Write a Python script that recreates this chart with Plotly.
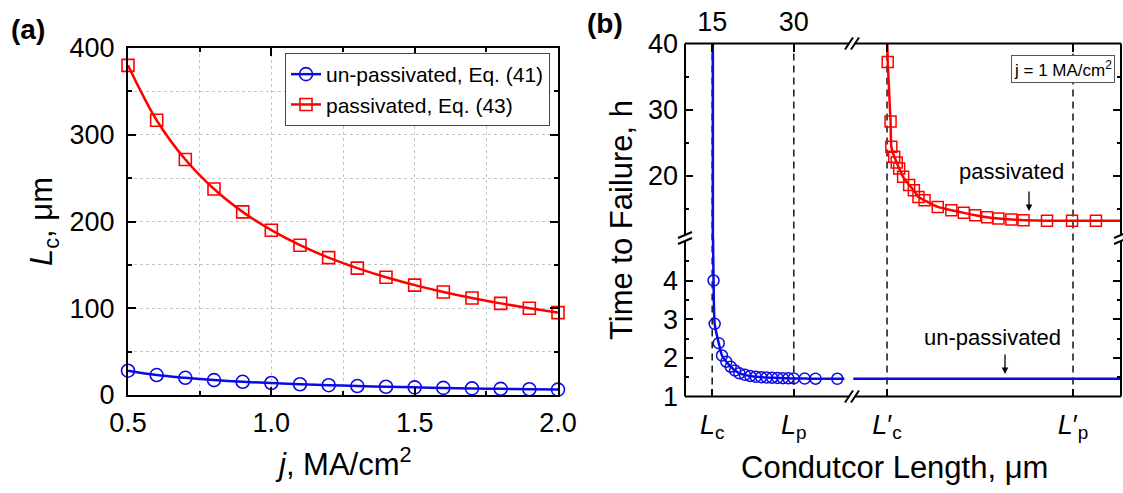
import plotly.graph_objects as go

W, H = 1123, 493
FONT = "Liberation Sans, Arial, sans-serif"

# ---------------- data : panel (a) ----------------
j_density = [0.5, 0.6, 0.7, 0.8, 0.9, 1.0, 1.1, 1.2, 1.3, 1.4, 1.5, 1.6, 1.7, 1.8, 1.9, 2.0]
lc_unpassivated = [28, 23, 19.8, 17.2, 15.2, 13.8, 12.4, 11.3, 10.3, 9.5, 8.8, 8.2, 7.6, 7.1, 6.6, 6.2]
lc_passivated = [380, 316.7, 271.4, 237.5, 211.1, 190, 172.7, 158.3, 146.2, 135.7,
                 126.7, 118.8, 111.8, 105.6, 100, 95]
j_range = [0.5, 2.0]
lc_range = [0, 400]

# ---------------- data : panel (b) ----------------
# un-passivated line (left length scale)
len_unpass_pts = [15.25, 15.45, 16.2, 16.8, 17.6, 18.4, 19.2, 20, 21, 22, 23, 24, 25, 26,
                  27, 28, 29, 30, 32, 34, 38]
ttf_unpass_pts = [4.0, 2.88, 2.38, 2.06, 1.9, 1.77, 1.67, 1.6, 1.56, 1.53, 1.51, 1.5, 1.49,
                  1.485, 1.48, 1.475, 1.47, 1.467, 1.463, 1.46, 1.458]
len_unpass_curve = [15.15] + len_unpass_pts + [39.3]
ttf_unpass_curve = [5.1] + ttf_unpass_pts + [1.457]
len_unpass_asym = [15.12, 15.12]
ttf_unpass_asym = [10.6, 40]
len_unpass_long = [155.5, 429]
ttf_unpass_long = [1.457, 1.457]

# passivated line (right length scale)
len_pass_pts = [190.7, 193.6, 194.4, 197.3, 199.9, 202.4, 206.4, 212.6, 217.4, 222.1, 228.3,
                241.8, 255.7, 268.4, 280.1, 292.2, 303.8, 317, 329.4, 353.4, 379, 403.4]
ttf_pass_pts = [37.2, 28.2, 24.4, 22.9, 22.0, 21.1, 19.85, 18.6, 17.8, 16.8, 16.3, 15.3, 14.8,
                14.4, 14.05, 13.75, 13.55, 13.4, 13.3, 13.2, 13.2, 13.2]
len_pass_curve = [190.35] + len_pass_pts + [429]
ttf_pass_curve = [40] + ttf_pass_pts + [13.2]

crit_len = [15, 30]            # Lc, Lp
crit_len_pass = [190, 380]     # L'c, L'p
crit_labels = ["<i>L</i><sub>c</sub>", "<i>L</i><sub>p</sub>"]
crit_labels_pass = ["<i>L</i>\u2032<sub>c</sub>", "<i>L</i>\u2032<sub>p</sub>"]
top_tick_text = ["15", "30"]
ttf_ticks_low = [1, 2, 3, 4]
ttf_minor_low = [1.5, 2.5, 3.5, 4.5]
ttf_ticks_high = [20, 30, 40]
ttf_minor_high = [15, 25, 35]
len_range_left = [10, 40.7]
len_range_right = [154.2, 429]
ttf_range_low = [1, 5.1]
ttf_range_high = [10.6, 40]

BLUE = "#0a0ae6"
RED = "#ff0000"

# ---------------- geometry (pixels) ----------------
A_L, A_R, A_T, A_B = 128, 558, 48, 395
B_L, B_R, B_T, B_B = 685, 1121, 43.5, 396.5
B_XBRK, B_YBRK = 852, 238


def px(x):
    return x / W


def py(y):
    return 1 - y / H


fig = go.Figure()

# ---- panel (a) traces ----
fig.add_trace(go.Scatter(x=j_density, y=lc_unpassivated, mode="lines+markers",
                         name="un-passivated, Eq. (41)", xaxis="x", yaxis="y",
                         line=dict(color=BLUE, width=2.5, shape="spline"),
                         marker=dict(symbol="circle-open", size=13, color=BLUE,
                                     line=dict(width=1.6, color=BLUE)),
                         cliponaxis=False))
fig.add_trace(go.Scatter(x=j_density, y=lc_passivated, mode="lines+markers",
                         name="passivated, Eq. (43)", xaxis="x", yaxis="y",
                         line=dict(color=RED, width=2.5, shape="spline"),
                         marker=dict(symbol="square-open", size=12, color=RED,
                                     line=dict(width=1.6, color=RED)),
                         cliponaxis=False))

# ---- panel (b) traces ----
fig.add_trace(go.Scatter(x=len_unpass_asym, y=ttf_unpass_asym, mode="lines", xaxis="x3", yaxis="y4",
                         line=dict(color=BLUE, width=2.5), showlegend=False))
fig.add_trace(go.Scatter(x=len_unpass_curve, y=ttf_unpass_curve, mode="lines", xaxis="x3", yaxis="y3",
                         line=dict(color=BLUE, width=2.5, shape="spline", smoothing=0.6),
                         showlegend=False))
fig.add_trace(go.Scatter(x=len_unpass_pts, y=ttf_unpass_pts, mode="markers", xaxis="x3", yaxis="y3",
                         marker=dict(symbol="circle-open", size=11, color=BLUE,
                                     line=dict(width=1.5, color=BLUE)),
                         showlegend=False, cliponaxis=False))
fig.add_trace(go.Scatter(x=len_unpass_long, y=ttf_unpass_long, mode="lines", xaxis="x4", yaxis="y3",
                         line=dict(color=BLUE, width=2.5), showlegend=False))
fig.add_trace(go.Scatter(x=len_pass_curve, y=ttf_pass_curve, mode="lines", xaxis="x4", yaxis="y4",
                         line=dict(color=RED, width=2.5, shape="spline", smoothing=0.6),
                         showlegend=False))
fig.add_trace(go.Scatter(x=len_pass_pts, y=ttf_pass_pts, mode="markers", xaxis="x4", yaxis="y4",
                         marker=dict(symbol="square-open", size=11, color=RED,
                                     line=dict(width=1.5, color=RED)),
                         showlegend=False, cliponaxis=False))
# empty traces so that mirror axes are drawn
for xa, ya in [("x5", "y4"), ("x6", "y4"), ("x4", "y5"), ("x4", "y6")]:
    fig.add_trace(go.Scatter(x=[], y=[], xaxis=xa, yaxis=ya, showlegend=False, hoverinfo="skip"))

tickfont = dict(family=FONT, size=27, color="black")
GRID = dict(showgrid=True, gridcolor="#c4c4c4", griddash="dot", gridwidth=1)

common_a = dict(showline=True, linewidth=2, linecolor="black", mirror="allticks",
                ticks="inside", ticklen=8, tickwidth=2, tickcolor="black",
                zeroline=False, tickfont=tickfont, automargin=False,
                **GRID)

common_b = dict(showline=False, ticks="inside", ticklen=8, tickwidth=2, tickcolor="black",
                showgrid=False, zeroline=False, tickfont=tickfont, automargin=False)

minor_a = dict(ticks="inside", ticklen=4, tickwidth=2, tickcolor="black",
               showgrid=True, gridcolor="#c4c4c4", griddash="dot", gridwidth=1)

layout = dict(
    width=W, height=H, margin=dict(l=0, r=0, t=0, b=0),
    paper_bgcolor="white", plot_bgcolor="rgba(0,0,0,0)",
    font=dict(family=FONT, color="black"),
    showlegend=True,
    legend=dict(x=px(550), y=py(53), xanchor="right", yanchor="top",
                bordercolor="#444", borderwidth=1, bgcolor="white",
                font=dict(family=FONT, size=21, color="black"),
                tracegroupgap=0),
    xaxis=dict(domain=[px(A_L), px(A_R)], range=j_range, anchor="y",
               tick0=0.5, dtick=0.5, tickformat=".1f", ticklabelstandoff=3,
               minor=dict(dtick=0.25, tick0=0.5, **minor_a), **common_a),
    yaxis=dict(domain=[py(A_B), py(A_T)], range=lc_range, anchor="x",
               tick0=0, dtick=100, ticklabelstandoff=6,
               minor=dict(dtick=50, tick0=0, **minor_a), **common_a),
    xaxis3=dict(domain=[px(B_L), px(B_XBRK)], range=len_range_left, anchor="y3",
                tickmode="array", tickvals=crit_len, ticktext=crit_labels,
                ticklabelstandoff=9, **common_b),
    xaxis4=dict(domain=[px(B_XBRK), px(B_R)], range=len_range_right, anchor="y3",
                tickmode="array", tickvals=crit_len_pass, ticktext=crit_labels_pass,
                ticklabelstandoff=9, **common_b),
    xaxis5=dict(overlaying="x3", range=len_range_left, anchor="y4", side="top",
                tickmode="array", tickvals=crit_len, ticktext=top_tick_text,
                ticklabelstandoff=6, **common_b),
    xaxis6=dict(overlaying="x4", range=len_range_right, anchor="y4", side="top",
                tickmode="array", tickvals=crit_len_pass, showticklabels=False, **common_b),
    yaxis3=dict(domain=[py(B_B), py(B_YBRK)], range=ttf_range_low, anchor="x3",
                tickmode="array", tickvals=ttf_ticks_low, ticklabelstandoff=6,
                minor=dict(tickvals=ttf_minor_low, ticks="inside", ticklen=4, tickwidth=2,
                           tickcolor="black"), **common_b),
    yaxis4=dict(domain=[py(B_YBRK), py(B_T)], range=ttf_range_high, anchor="x3",
                tickmode="array", tickvals=ttf_ticks_high, ticklabelstandoff=6,
                minor=dict(tickvals=ttf_minor_high, ticks="inside", ticklen=4, tickwidth=2,
                           tickcolor="black"), **common_b),
    yaxis5=dict(overlaying="y3", range=ttf_range_low, anchor="x4", side="right",
                tickmode="array", tickvals=ttf_ticks_low, showticklabels=False,
                minor=dict(tickvals=ttf_minor_low, ticks="inside", ticklen=4, tickwidth=2,
                           tickcolor="black"), **common_b),
    yaxis6=dict(overlaying="y4", range=ttf_range_high, anchor="x4", side="right",
                tickmode="array", tickvals=ttf_ticks_high, showticklabels=False,
                minor=dict(tickvals=ttf_minor_high, ticks="inside", ticklen=4, tickwidth=2,
                           tickcolor="black"), **common_b),
)

shapes = []
# dashed reference lengths
for xa, vals in [("x3", crit_len), ("x4", crit_len_pass)]:
    for v in vals:
        shapes.append(dict(type="line", xref=xa, yref="paper", x0=v, x1=v,
                           y0=py(B_B), y1=py(B_T),
                           line=dict(color="#222", width=1.6, dash="7px,5px"), layer="below"))


def seg(x0, y0, x1, y1, w=2):
    shapes.append(dict(type="line", xref="paper", yref="paper",
                       x0=px(x0), y0=py(y0), x1=px(x1), y1=py(y1),
                       line=dict(color="black", width=w)))


# frame of panel (b) with breaks
g = 3
seg(B_L, B_T, B_XBRK - g, B_T)
seg(B_XBRK + g, B_T, B_R, B_T)
seg(B_L, B_B, B_XBRK - g, B_B)
seg(B_XBRK + g, B_B, B_R, B_B)
seg(B_L, B_T, B_L, B_YBRK - g)
seg(B_L, B_YBRK + g, B_L, B_B)
seg(B_R, B_T, B_R, B_YBRK - g)
seg(B_R, B_YBRK + g, B_R, B_B)
for yy in (B_T, B_B):
    for dx in (-g, g):
        seg(B_XBRK + dx - 4, yy + 6, B_XBRK + dx + 4, yy - 6)
for xx in (B_L, B_R):
    for dy in (-g, g):
        seg(xx - 7, B_YBRK + dy + 3, xx + 7, B_YBRK + dy - 3)

layout["shapes"] = shapes


def ann(text, x, y, size, xanchor="center", yanchor="middle", **kw):
    d = dict(text=text, x=px(x), y=py(y), xref="paper", yref="paper", showarrow=False,
             xanchor=xanchor, yanchor=yanchor,
             font=dict(family=FONT, size=size, color="black"))
    d.update(kw)
    return d


annotations = [
    ann("<b>(a)</b>", 9, 30, 28, xanchor="left"),
    ann("<b>(b)</b>", 585, 23, 28, xanchor="left"),
    ann("<i>L</i><sub>c</sub>, \u03bcm", 44, 222, 31, textangle=-90),
    ann("<i>j</i>, MA/cm<sup>2</sup>", 343, 462, 31),
    ann("Time to Failure, h", 622, 220, 31, textangle=-90),
    ann("Condutcor Length, \u03bcm", 894, 467, 31),
    ann("j = 1 MA/cm<sup>2</sup>", 1115, 55, 17, xanchor="right", yanchor="top",
        bordercolor="#555", borderwidth=1, borderpad=2, bgcolor="white"),
    ann("passivated", 1011, 172, 22),
    ann("un-passivated", 992, 337, 22),
    dict(text="", x=px(1029), y=py(211), xref="paper", yref="paper", showarrow=True,
         ax=0, ay=-21, arrowhead=2, arrowsize=1, arrowwidth=1.3, arrowcolor="black"),
    dict(text="", x=px(1005), y=py(374), xref="paper", yref="paper", showarrow=True,
         ax=0, ay=-21, arrowhead=2, arrowsize=1, arrowwidth=1.3, arrowcolor="black"),
]
layout["annotations"] = annotations

fig.update_layout(**layout)
fig.write_html("out.html")
